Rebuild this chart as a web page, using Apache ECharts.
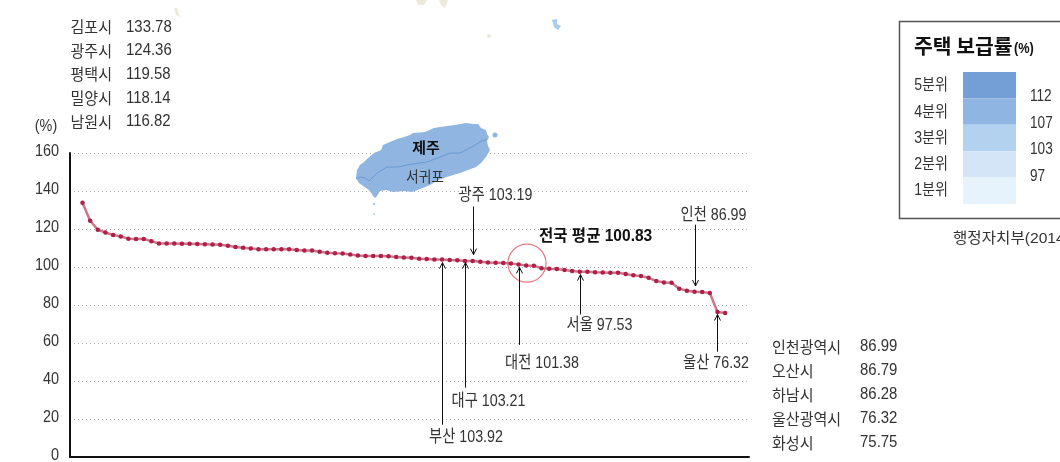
<!DOCTYPE html>
<html>
<head>
<meta charset="utf-8">
<style>
  html, body { margin: 0; padding: 0; background: #fff; overflow: hidden; }
  #chart { width: 1060px; height: 462px; }
</style>
<script src="https://cdn.jsdelivr.net/npm/echarts@6/dist/echarts.min.js"></script>
</head>
<body>
<div id="chart"></div>
<script>
// housing supply ratio of 85 cities, sorted high to low
var supplyRatio = [
  133.78, 124.36, 119.58, 118.14, 116.82, 116.1, 114.9, 114.8, 114.7, 113.6,
  112.4, 112.4, 112.4, 112.3, 112.2, 112.1, 112.0, 111.9, 111.7, 111.2,
  110.5, 110.1, 109.8, 109.4, 109.4, 109.4, 109.4, 109.4, 108.9, 108.7,
  108.7, 108.0, 107.5, 107.3, 107.15, 106.6, 106.1, 105.75, 105.75, 105.75,
  105.6, 105.2, 105.05, 104.9, 104.35, 104.2, 104.0, 103.92, 103.65, 103.5,
  103.21, 103.19, 102.8, 102.4, 102.25, 102.1, 101.9, 101.38, 100.84, 100.67,
  99.4, 99.1, 98.9, 98.4, 97.85, 97.53, 97.5, 97.3, 97.15, 97.0,
  97.0, 96.3, 95.6, 95.2, 94.3, 92.6, 91.9, 91.7, 88.6, 87.5,
  86.99, 86.79, 86.28, 76.32, 75.75
];
var yTickValues = [0, 20, 40, 60, 80, 100, 120, 140, 160];

// arrows: rank of the city, value at the arrow tip, value at the tail
var arrowRanks = [47, 50, 51, 57, 65, 80, 83];
var arrowTips = [102.3, 102.3, 106.5, 99.8, 96, 90, 75];
var arrowTails = [17, 36.5, 131.8, 59, 75, 122.3, 55.4];
var arrowLabels = ['부산 103.92', '대구 103.21', '광주 103.19', '대전 101.38', '서울 97.53', '인천 86.99', '울산 76.32'];
var arrowLabelPos = [[466, 437], [488.5, 401], [495.5, 195], [542, 363], [599.5, 325], [713.5, 215], [716, 363]];

var topNames = ['김포시', '광주시', '평택시', '밀양시', '남원시'];
var topValues = ['133.78', '124.36', '119.58', '118.14', '116.82'];
var bottomNames = ['인천광역시', '오산시', '하남시', '울산광역시', '화성시'];
var bottomValues = ['86.99', '86.79', '86.28', '76.32', '75.75'];

var legendNames = ['5분위', '4분위', '3분위', '2분위', '1분위'];
var legendColors = ['#749fd6', '#8fb6e3', '#b3d2f0', '#d3e5f7', '#e6f3fc'];
var legendBreaks = ['112', '107', '103', '97'];

var FONT = '"Liberation Sans", "Noto Sans CJK KR", sans-serif';
var KFONT = '"Noto Sans CJK KR", sans-serif';
var TEXT = '#333';

// jeju island outline, picture pixels
var island = [[356,178],[357,170],[360,165],[364,162],[368,158],[374,153],[381,150],[383,145],[390,142],[397,139],[404,137],[410,135],[413,133],[425,132],[434,128],[440,127],[455,125],[466,123],[473,124],[478,124],[481,128],[486,130],[487,134],[489,137],[487,141],[488,146],[490,150],[486,157],[481,163],[476,167],[468,170],[460,173],[450,176],[444,178],[438,180],[430,185],[420,189],[412,192],[404,191],[393,192],[386,190],[380,191],[377,196],[375,198],[373,196],[370,191],[366,188],[359,183]];
var islandRoad = [[356,179],[360,177],[365,178],[369,181],[377,173],[387,167],[398,167],[407,165],[427,162],[440,157],[450,153],[460,153],[472,147],[480,142],[487,139]];

function txt(x, y, s, size, opt) {
  opt = opt || {};
  return {
    type: 'text', x: x, y: y, silent: true, z: 20, scaleX: opt.scale || 1,
    style: {
      text: s, fontSize: size, fontFamily: opt.family || FONT, fontWeight: opt.weight || 'normal',
      fill: opt.fill || TEXT, align: opt.align || 'left', verticalAlign: 'middle'
    }
  };
}

var graphics = [];
// decoration bits of the map behind the chart
graphics.push({ type: 'polygon', silent: true, shape: { points: [[416,0],[427,0],[424,5],[418,5]] }, style: { fill: '#ecebda' } });
graphics.push({ type: 'polygon', silent: true, shape: { points: [[439,0],[448,0],[445,8],[441,5]] }, style: { fill: '#ecebda' } });
graphics.push({ type: 'circle', silent: true, shape: { cx: 489, cy: 36, r: 2 }, style: { fill: '#ecebda' } });
graphics.push({ type: 'polygon', silent: true, shape: { points: [[174,8],[177,8],[180,17],[176,15]] }, style: { fill: '#ecebda' } });
graphics.push({ type: 'polygon', silent: true, shape: { points: [[552,20],[557,19],[557,24],[561,26],[558,30],[554,27]] }, style: { fill: '#a9cdea' } });

graphics.push({ type: 'polygon', silent: true, z: 1, shape: { points: island }, style: { fill: '#8fb5e0' } });
graphics.push({ type: 'polyline', silent: true, z: 2, shape: { points: islandRoad }, style: { stroke: '#6a9ad2', lineWidth: 1, fill: 'none' } });
graphics.push({ type: 'circle', silent: true, z: 1, shape: { cx: 495, cy: 135, r: 2.5 }, style: { fill: '#8fb5e0' } });
graphics.push({ type: 'circle', silent: true, z: 1, shape: { cx: 374, cy: 204, r: 1 }, style: { fill: '#8fb5e0' } });
graphics.push({ type: 'circle', silent: true, z: 1, shape: { cx: 374, cy: 214, r: 1 }, style: { fill: '#b5cfea' } });
graphics.push(txt(426, 147, '제주', 15, { family: KFONT, weight: 'bold', align: 'center', fill: '#111' }));
graphics.push(txt(425, 176, '서귀포', 15, { family: KFONT, align: 'center', scale: 0.92 }));

topNames.forEach(function (name, i) {
  var y = 27 + i * 23.7;
  graphics.push(txt(112, y, name, 16, { family: KFONT, align: 'right', scale: 0.94 }));
  graphics.push(txt(126, y, topValues[i], 17, { scale: 0.88 }));
});
bottomNames.forEach(function (name, i) {
  var y = 346.5 + i * 24;
  graphics.push(txt(772, y, name, 16, { family: KFONT, scale: 0.94 }));
  graphics.push(txt(860, y, bottomValues[i], 17, { scale: 0.88 }));
});
graphics.push(txt(46, 127, '(%)', 16, { align: 'center', scale: 0.9 }));

arrowLabels.forEach(function (label, i) {
  graphics.push(txt(arrowLabelPos[i][0], arrowLabelPos[i][1], label, 17, { align: 'center', scale: 0.84 }));
});
graphics.push(txt(539, 237, '전국 평균 100.83', 16, { weight: 'bold', fill: '#111', scale: 0.97 }));

// legend box, its right edge runs off the picture
graphics.push({ type: 'rect', silent: true, shape: { x: 899.5, y: 21.5, width: 200, height: 197 }, style: { fill: 'none', stroke: '#555', lineWidth: 1.5 } });
graphics.push(txt(914, 46, '주택 보급률', 20, { family: KFONT, weight: 'bold', fill: '#111', scale: 1.02 }));
graphics.push(txt(1014, 49, '(%)', 15, { weight: 'bold', fill: '#111', scale: 0.85 }));
legendNames.forEach(function (name, i) {
  graphics.push({ type: 'rect', silent: true, shape: { x: 963, y: 72 + i * 26.4, width: 53, height: 26.4 }, style: { fill: legendColors[i] } });
  graphics.push(txt(948, 86 + i * 26.2, name, 16, { align: 'right', scale: 0.88 }));
});
legendBreaks.forEach(function (b, i) {
  graphics.push(txt(1030, 97 + i * 26.5, b, 16, { scale: 0.85 }));
});
graphics.push(txt(953, 239, '행정자치부(2014)', 15, { scale: 1.04 }));

var chart = echarts.init(document.getElementById('chart'));
chart.setOption({
  animation: false,
  backgroundColor: '#fff',
  grid: { left: 70, top: 153, width: 679, height: 304 },
  xAxis: {
    type: 'value',
    min: -1.634,
    max: 87.12,
    axisLine: { show: true, onZero: false, lineStyle: { color: '#111', width: 2 } },
    axisTick: { show: false },
    axisLabel: { show: false },
    splitLine: { show: false }
  },
  yAxis: {
    type: 'value',
    min: 0,
    max: 160,
    interval: 20,
    axisLine: { show: true, onZero: false, lineStyle: { color: '#111', width: 2 } },
    axisTick: { show: false },
    axisLabel: { show: false },
    splitLine: { lineStyle: { color: '#aaa', type: [1, 3], width: 1 } }
  },
  series: [
    {
      type: 'line',
      data: supplyRatio.map(function (v, i) { return [i, v]; }),
      symbol: 'circle',
      symbolSize: 4.5,
      z: 5,
      lineStyle: { color: '#cd7589', width: 2.5 },
      itemStyle: { color: '#ae1f4a' }
    },
    {
      // circle round the national average
      type: 'scatter',
      data: [[58.1, 102]],
      symbol: 'circle',
      symbolSize: 38,
      z: 6,
      itemStyle: { color: 'rgba(0,0,0,0)', borderColor: '#dc5a62', borderWidth: 1.2 }
    },
    {
      type: 'custom',
      z: 7,
      clip: false,
      data: arrowRanks.map(function (r, i) { return [r, arrowTips[i], arrowTails[i]]; }),
      renderItem: function (params, api) {
        var tip = api.coord([api.value(0), api.value(1)]);
        var tail = api.coord([api.value(0), api.value(2)]);
        var dir = tail[1] > tip[1] ? 1 : -1;
        var x = Math.round(tip[0]) + 0.5;
        var lineStyle = { stroke: '#111', lineWidth: 1, fill: 'none' };
        return {
          type: 'group',
          children: [
            { type: 'line', shape: { x1: x, y1: tip[1], x2: x, y2: tail[1] }, style: lineStyle },
            { type: 'polyline', shape: { points: [[x - 3, tip[1] + dir * 6], [x, tip[1]], [x + 3, tip[1] + dir * 6]] }, style: lineStyle }
          ]
        };
      }
    },
    {
      // y tick labels, narrowed like the printed ones so done here and not in axisLabel
      type: 'custom',
      z: 8,
      clip: false,
      data: yTickValues.map(function (v) { return [0, v]; }),
      renderItem: function (params, api) {
        var p = api.coord([api.value(0), api.value(1)]);
        return {
          type: 'text',
          x: 59,
          y: p[1] - 2,
          scaleX: 0.85,
          style: {
            text: String(api.value(1)), fontSize: 17, fontFamily: FONT, fill: TEXT,
            align: 'right', verticalAlign: 'middle'
          }
        };
      }
    }
  ],
  graphic: graphics
});
</script>
</body>
</html>
